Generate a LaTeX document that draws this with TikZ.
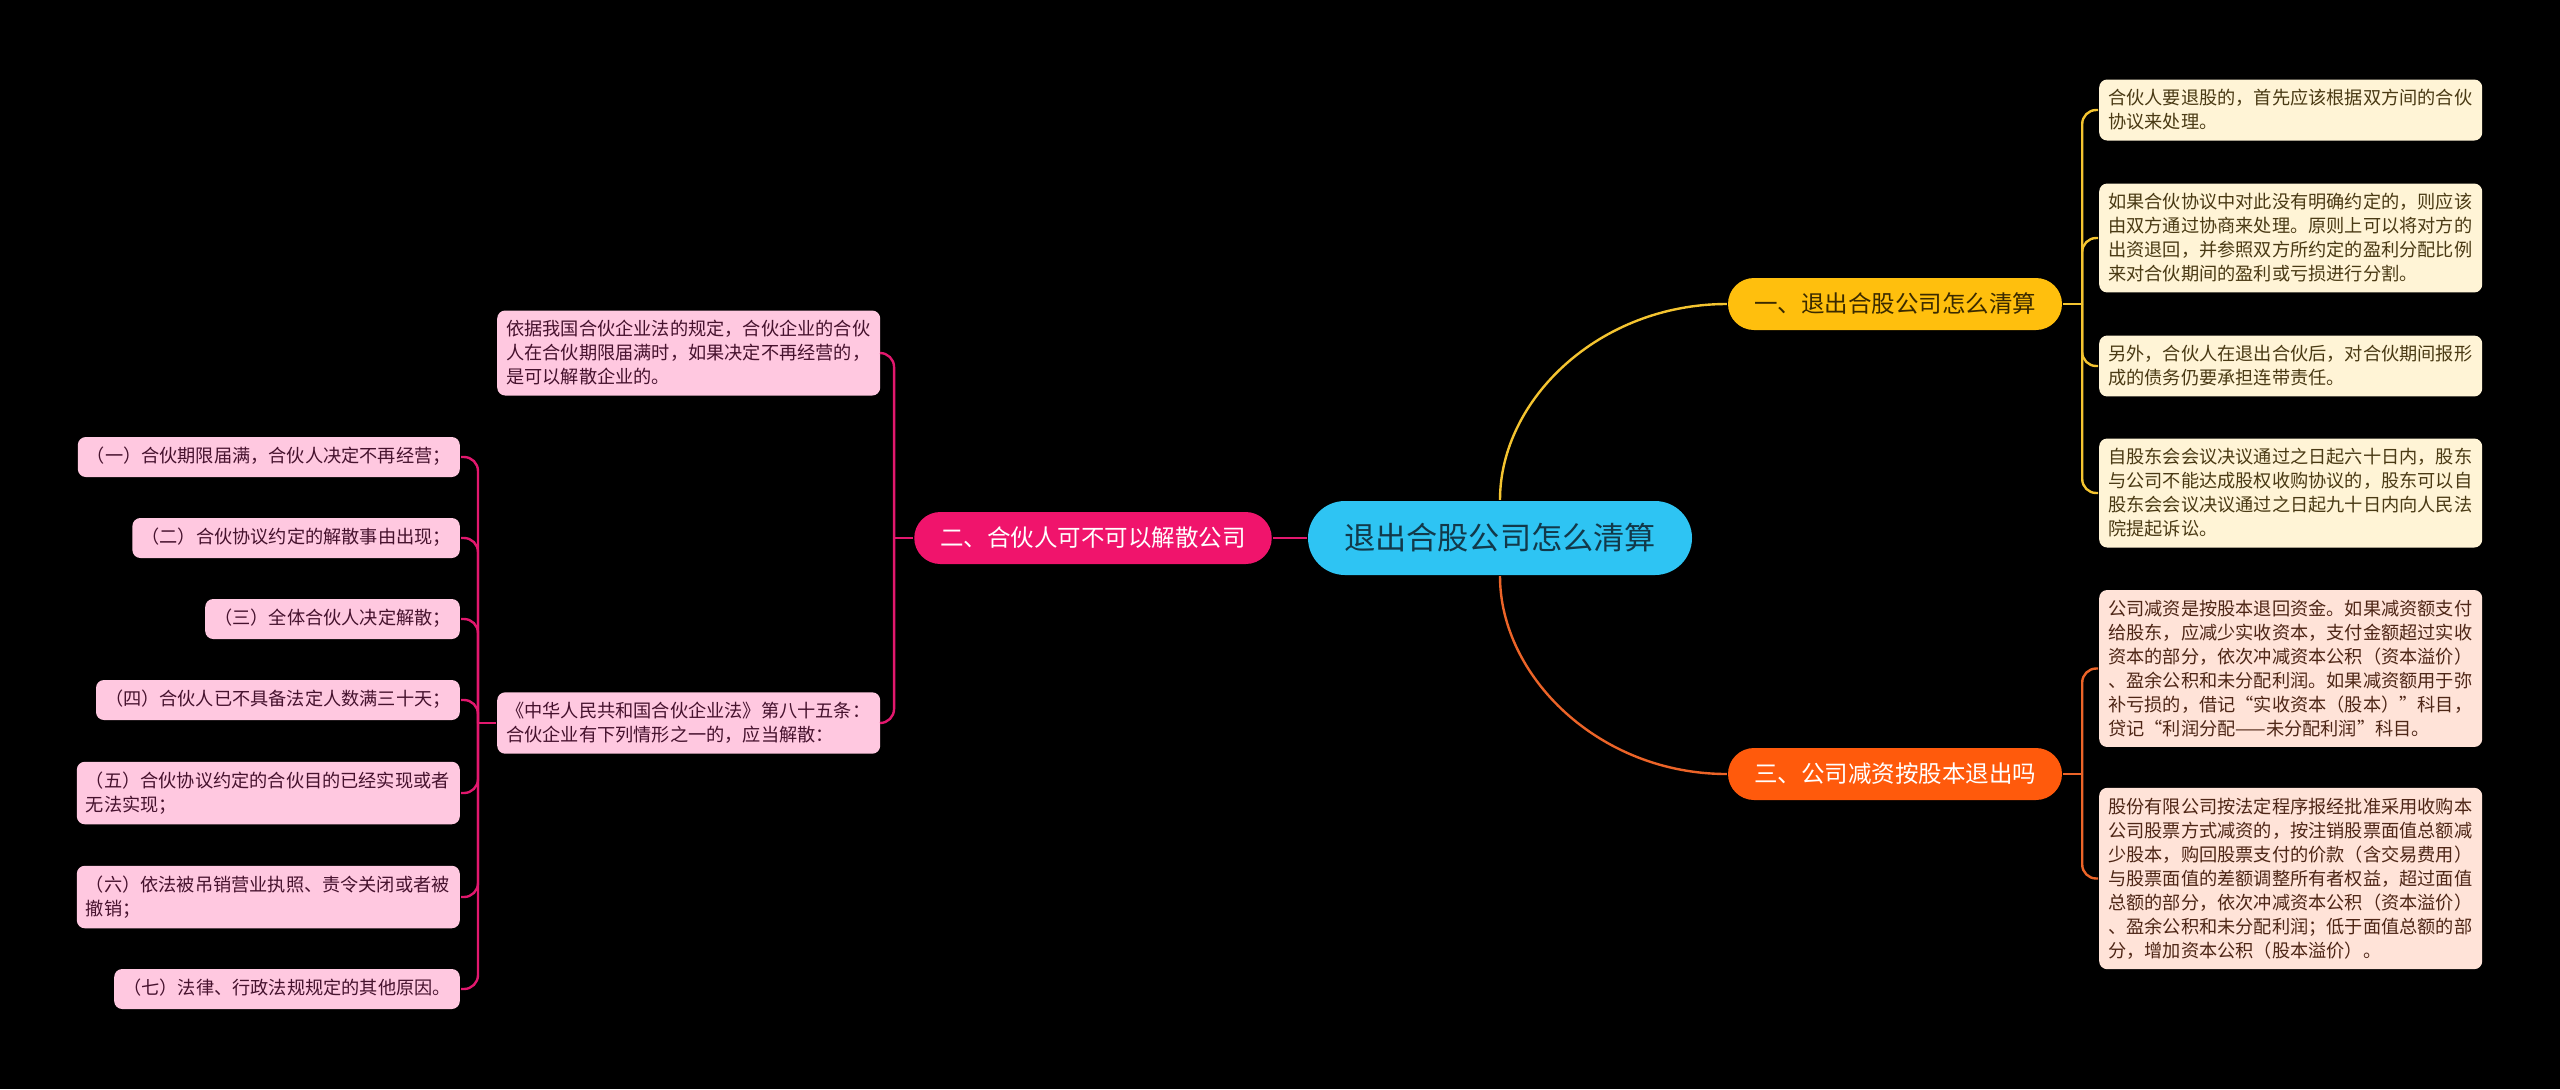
\documentclass[tikz,border=0pt]{standalone}
\usepackage{fontspec}
\newfontfamily\zhfont{Noto Sans CJK SC}
\usepackage{tikz}

\definecolor{rootblue}{HTML}{2EC4F3}
\definecolor{roottext}{HTML}{12394A}
\definecolor{amber}{HTML}{FFBF0D}
\definecolor{ambertext}{HTML}{3A2A00}
\definecolor{rose}{HTML}{F0146C}
\definecolor{flame}{HTML}{FF5A0C}
\definecolor{cream}{HTML}{FFF4D6}
\definecolor{creamtext}{HTML}{4A3A14}
\definecolor{peach}{HTML}{FFE3D8}
\definecolor{peachtext}{HTML}{4E2616}
\definecolor{blush}{HTML}{FFC8E0}
\definecolor{blushtext}{HTML}{46122E}
\definecolor{amberline}{HTML}{F4C430}
\definecolor{flameline}{HTML}{EC6428}
\definecolor{roseline}{HTML}{E2186E}

\begin{document}
\begin{tikzpicture}[x=0.5pt, y=-0.5pt, line width=1.2pt,
    root/.style={fill=rootblue, text=roottext, rounded corners=18.5pt, minimum height=37pt,
        inner xsep=18pt, font=\zhfont\fontsize{15.6}{18}\selectfont},
    topic/.style={rounded corners=13pt, minimum height=26pt, inner xsep=13pt,
        font=\zhfont\fontsize{11.75}{14}\selectfont},
    leaf/.style={rounded corners=4pt, inner xsep=4.5pt, inner ysep=5pt,
        font=\zhfont\fontsize{9.1}{12}\selectfont},
    para/.style={leaf, text width=182.5pt, align=left},
    oneline/.style={leaf, text height=7.6pt, text depth=2.4pt},
    crm/.style={para, fill=cream, text=creamtext, anchor=west},
    pch/.style={para, fill=peach, text=peachtext, anchor=west},
    pnk/.style={fill=blush, text=blushtext}]

    \fill[black] (0,0) rectangle (2560,1089);

    \node[root] (root) at (1500,538) {退出合股公司怎么清算};

    \node[topic, fill=amber, text=ambertext] (b1) at (1895,304) {一、退出合股公司怎么清算};
    \node[topic, fill=rose, text=white] (b2) at (1093,538) {二、合伙人可不可以解散公司};
    \node[topic, fill=flame, text=white] (b3) at (1895,774) {三、公司减资按股本退出吗};

    \node[crm] (r1) at (2098,110) {合伙人要退股的，首先应该根据双方间的合伙\\协议来处理。};
    \node[crm] (r2) at (2098,238) {如果合伙协议中对此没有明确约定的，则应该\\由双方通过协商来处理。原则上可以将对方的\\出资退回，并参照双方所约定的盈利分配比例\\来对合伙期间的盈利或亏损进行分割。};
    \node[crm] (r3) at (2098,366) {另外，合伙人在退出合伙后，对合伙期间报形\\成的债务仍要承担连带责任。};
    \node[crm] (r4) at (2098,493) {自股东会会议决议通过之日起六十日内，股东\\与公司不能达成股权收购协议的，股东可以自\\股东会会议决议通过之日起九十日内向人民法\\院提起诉讼。};

    \node[pch] (s1) at (2098,668.5) {公司减资是按股本退回资金。如果减资额支付\\给股东，应减少实收资本，支付金额超过实收\\资本的部分，依次冲减资本公积（资本溢价）\\、盈余公积和未分配利润。如果减资额用于弥\\补亏损的，借记“实收资本（股本）”科目，\\贷记“利润分配——未分配利润”科目。};
    \node[pch] (s2) at (2098,878.5) {股份有限公司按法定程序报经批准采用收购本\\公司股票方式减资的，按注销股票面值总额减\\少股本，购回股票支付的价款（含交易费用）\\与股票面值的差额调整所有者权益，超过面值\\总额的部分，依次冲减资本公积（资本溢价）\\、盈余公积和未分配利润；低于面值总额的部\\分，增加资本公积（股本溢价）。};

    \node[para, pnk, anchor=west] (m1) at (496,353) {依据我国合伙企业法的规定，合伙企业的合伙\\人在合伙期限届满时，如果决定不再经营的，\\是可以解散企业的。};
    \node[para, pnk, anchor=west] (m2) at (496,723) {《中华人民共和国合伙企业法》第八十五条：\\合伙企业有下列情形之一的，应当解散：};

    \node[oneline, pnk, anchor=east] (k1) at (461,457) {（一）合伙期限届满，合伙人决定不再经营；};
    \node[oneline, pnk, anchor=east] (k2) at (461,538) {（二）合伙协议约定的解散事由出现；};
    \node[oneline, pnk, anchor=east] (k3) at (461,619) {（三）全体合伙人决定解散；};
    \node[oneline, pnk, anchor=east] (k4) at (461,700) {（四）合伙人已不具备法定人数满三十天；};
    \node[para, pnk, anchor=east] (k5) at (461,793) {（五）合伙协议约定的合伙目的已经实现或者\\无法实现；};
    \node[para, pnk, anchor=east] (k6) at (461,897) {（六）依法被吊销营业执照、责令关闭或者被\\撤销；};
    \node[oneline, pnk, anchor=east] (k7) at (461,989) {（七）法律、行政法规规定的其他原因。};

    \draw[amberline] (root.north) .. controls +(0,-100) and +(-128,0) .. (b1.west);
    \draw[flameline] (root.south) .. controls +(0,100) and +(-128,0) .. (b3.west);
    \draw[roseline] (root.west) -- (b2.east);

    \coordinate (j1) at ([xshift=9.5pt]b1.east);
    \coordinate (j3) at ([xshift=9.5pt]b3.east);
    \coordinate (j2) at ([xshift=-9.5pt]b2.west);
    \coordinate (j4) at ([xshift=-9pt]m2.west);

    \draw[amberline] (b1.east) -- (j1);
    \foreach \n in {r1,r2,r3,r4}
        \draw[amberline, rounded corners=7pt] (j1) |- (\n.west);
    \draw[flameline] (b3.east) -- (j3);
    \foreach \n in {s1,s2}
        \draw[flameline, rounded corners=7pt] (j3) |- (\n.west);
    \draw[roseline] (b2.west) -- (j2);
    \foreach \n in {m1,m2}
        \draw[roseline, rounded corners=7pt] (j2) |- (\n.east);
    \draw[roseline] (m2.west) -- (j4);
    \foreach \n in {k1,k2,k3,k4,k5,k6,k7}
        \draw[roseline, rounded corners=7pt] (j4) |- (\n.east);
\end{tikzpicture}
\end{document}
